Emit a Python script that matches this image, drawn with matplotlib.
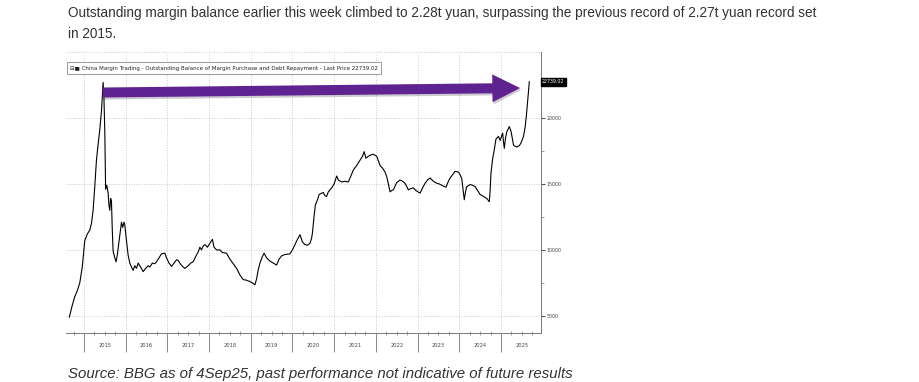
import matplotlib
matplotlib.use("Agg")
import matplotlib.pyplot as plt
import matplotlib.patheffects as pe
from matplotlib.ticker import FixedLocator, NullFormatter

# China margin balance (100m yuan)
YEARS = [
    2014.65, 2014.72, 2014.78, 2014.84, 2014.90, 2014.96, 2015.02, 2015.08, 2015.14, 2015.18,
    2015.22, 2015.26, 2015.30, 2015.34, 2015.38, 2015.42, 2015.46, 2015.48, 2015.50, 2015.52,
    2015.55, 2015.58, 2015.60, 2015.62, 2015.64, 2015.66, 2015.68, 2015.70, 2015.74, 2015.77,
    2015.80, 2015.84, 2015.87, 2015.90, 2015.93, 2015.96, 2015.98, 2016.02, 2016.06, 2016.10,
    2016.14, 2016.18, 2016.22, 2016.26, 2016.30, 2016.36, 2016.42, 2016.48, 2016.54, 2016.58,
    2016.64, 2016.70, 2016.74, 2016.80, 2016.86, 2016.94, 2016.98, 2017.04, 2017.10, 2017.16,
    2017.22, 2017.26, 2017.32, 2017.38, 2017.42, 2017.50, 2017.56, 2017.62, 2017.68, 2017.74,
    2017.78, 2017.82, 2017.86, 2017.90, 2017.96, 2018.02, 2018.08, 2018.12, 2018.18, 2018.26,
    2018.32, 2018.42, 2018.50, 2018.58, 2018.66, 2018.74, 2018.82, 2018.90, 2018.98, 2019.04,
    2019.10, 2019.14, 2019.18, 2019.22, 2019.28, 2019.32, 2019.38, 2019.46, 2019.54, 2019.62,
    2019.68, 2019.74, 2019.82, 2019.94, 2020.00, 2020.06, 2020.12, 2020.18, 2020.24, 2020.30,
    2020.36, 2020.42, 2020.46, 2020.48, 2020.52, 2020.55, 2020.60, 2020.64, 2020.70, 2020.74,
    2020.78, 2020.82, 2020.86, 2020.94, 2021.00, 2021.06, 2021.10, 2021.18, 2021.26, 2021.34,
    2021.40, 2021.46, 2021.54, 2021.62, 2021.68, 2021.72, 2021.76, 2021.82, 2021.88, 2021.94,
    2022.02, 2022.10, 2022.16, 2022.22, 2022.26, 2022.30, 2022.34, 2022.38, 2022.42, 2022.50,
    2022.58, 2022.64, 2022.70, 2022.74, 2022.78, 2022.84, 2022.90, 2022.96, 2023.06, 2023.12,
    2023.18, 2023.24, 2023.30, 2023.38, 2023.46, 2023.52, 2023.58, 2023.68, 2023.74, 2023.78,
    2023.84, 2023.90, 2023.98, 2024.02, 2024.06, 2024.09, 2024.12, 2024.15, 2024.18, 2024.26,
    2024.32, 2024.38, 2024.44, 2024.50, 2024.58, 2024.66, 2024.72, 2024.74, 2024.76, 2024.80,
    2024.84, 2024.88, 2024.94, 2024.98, 2025.04, 2025.06, 2025.08, 2025.11, 2025.14, 2025.20,
    2025.24, 2025.27, 2025.30, 2025.34, 2025.38, 2025.44, 2025.48, 2025.54, 2025.58, 2025.61,
    2025.64, 2025.68,
]
BALANCE = [
    4900, 5800, 6450, 6900, 7500, 8700, 10700, 11200, 11500, 12000,
    13000, 14800, 16800, 18000, 19100, 20500, 22700, 21500, 19000, 14600,
    14900, 14300, 13400, 13000, 13900, 13700, 11500, 9900, 9400, 9100,
    9600, 10600, 11300, 12100, 11700, 12100, 11900, 10700, 9600, 9000,
    8700, 8450, 8800, 8600, 9000, 8700, 8350, 8600, 8800, 8700,
    9000, 8950, 9100, 9400, 9700, 9750, 9400, 9000, 8750, 9000,
    9250, 9200, 8900, 8700, 8600, 8800, 9000, 9100, 9500, 9850,
    10200, 10000, 10300, 10400, 10200, 10500, 10800, 10200, 10000, 10000,
    9800, 9750, 9300, 8950, 8600, 8100, 7750, 7700, 7600, 7500,
    7350, 7800, 8500, 9000, 9500, 9750, 9400, 9150, 9000, 8850,
    9300, 9550, 9650, 9700, 10000, 10400, 10800, 11150, 10600, 10400,
    10350, 10500, 10900, 11300, 12600, 13400, 13800, 14200, 14300, 14350,
    14100, 14050, 14400, 14700, 15000, 15600, 15300, 15150, 15200, 15150,
    15600, 16050, 16400, 16800, 17100, 17450, 16950, 17100, 17200, 17250,
    17100, 16400, 16200, 15900, 15550, 15000, 14400, 14500, 14550, 15100,
    15300, 15200, 15050, 14800, 14550, 14650, 14700, 14500, 14300, 14700,
    15050, 15300, 15450, 15200, 15050, 15000, 14900, 14750, 15200, 15450,
    15700, 15950, 15900, 15700, 15400, 14600, 13800, 14400, 14800, 14950,
    14900, 14800, 14500, 14200, 14050, 13900, 13650, 14500, 15800, 16900,
    17600, 18400, 18600, 18300, 18850, 18200, 17700, 18500, 18950, 19350,
    19000, 18500, 17950, 17850, 17800, 17900, 18100, 18600, 19300, 20200,
    21300, 22739,
]
LAST_PRICE = "22739.02"
YEAR_LABELS = list(range(2015, 2026))
Y_TICKS = [5000, 10000, 15000, 20000]
Y_MINOR = [7500, 12500, 17500, 22500]

TITLE = ("Outstanding margin balance earlier this week climbed to 2.28t yuan, surpassing "
         "the previous record of 2.27t yuan record set\nin 2015.")
SOURCE = "Source: BBG as of 4Sep25, past performance not indicative of future results"
LEGEND = ("China Margin Trading - Outstanding Balance of Margin Purchase and Debt "
          "Repayment - Last Price " + LAST_PRICE)

INK = "#333333"
GRID = "#b8b8b8"
PURPLE = "#5f2391"

fig = plt.figure(figsize=(9.19, 3.82), dpi=100)
fig.patch.set_facecolor("white")
ax = fig.add_axes([66 / 919, 49 / 382, 475 / 919, 281 / 382])

ax.plot(YEARS, BALANCE, color="black", lw=0.8, zorder=3)
ax.set_xlim(2014.57, 2025.96)
ax.set_ylim(3700, 25000)

# grid
for y in YEAR_LABELS:
    ax.axvline(y, ymax=0.99, color=GRID, lw=0.6, ls=(0, (1, 2)), zorder=1)
for v in Y_TICKS + [25000]:
    ax.axhline(v, color=GRID, lw=0.6, ls=(0, (1, 2)), zorder=1)

ax.spines["top"].set_visible(False)
ax.spines["left"].set_visible(False)
for s in ("right", "bottom"):
    ax.spines[s].set_color("#777777")
    ax.spines[s].set_linewidth(0.7)

# x axis: long ticks at year boundaries, quarter minor ticks, labels mid-year
ax.xaxis.set_major_locator(FixedLocator(YEAR_LABELS))
ax.xaxis.set_major_formatter(NullFormatter())
quarters = [y + q for y in range(2014, 2026) for q in (0.25, 0.5, 0.75)]
ax.xaxis.set_minor_locator(FixedLocator(quarters))
ax.tick_params(axis="x", which="major", length=14, width=0.6, color="#777777")
ax.tick_params(axis="x", which="minor", length=3, width=0.5, color="#777777",
               direction="inout")
for y in YEAR_LABELS:
    ax.text(y + 0.5, -0.045, str(y), transform=ax.get_xaxis_transform(),
            ha="center", va="center", fontsize=3.7, color="#444444")

# y axis on the right
ax.yaxis.tick_right()
ax.yaxis.set_major_locator(FixedLocator(Y_TICKS))
ax.yaxis.set_minor_locator(FixedLocator(Y_MINOR))
ax.tick_params(axis="y", which="major", length=3, width=0.8, color="#555555",
               labelsize=3.4, labelcolor="#444444", pad=1)
ax.tick_params(axis="y", which="minor", length=2, width=0.5, color="#777777")
ax.yaxis.set_major_formatter(plt.FuncFormatter(lambda v, _: f"{v:.0f}"))

# last price tag
ax.text(1.002, BALANCE[-1], LAST_PRICE, transform=ax.get_yaxis_transform(),
        ha="left", va="center", fontsize=3.4, color="white",
        bbox=dict(boxstyle="square,pad=0.25", fc="black", ec="black"))

# legend box
ax.text(0.009, 0.943, "\u229f\u25a0 " + LEGEND, transform=ax.transAxes,
        ha="left", va="center", fontsize=3.95, color="#222222",
        bbox=dict(boxstyle="square,pad=0.55", fc="white", ec="#888888", lw=0.6),
        zorder=5)

# purple arrow from the 2015 peak to today
ax.annotate("", xy=(2025.46, 22270), xytext=(2015.45, 21930),
            arrowprops=dict(arrowstyle="simple,head_length=2.0,head_width=2.0,tail_width=0.72",
                            mutation_scale=10, fc=PURPLE, ec=PURPLE, lw=0,
                            shrinkA=0, shrinkB=0,
                            path_effects=[pe.SimplePatchShadow(offset=(0.8, -1.5),
                                                               alpha=0.22),
                                          pe.Normal()]),
            zorder=4)

fig.text(68 / 919, 1 - 6 / 382, TITLE, ha="left", va="top", fontsize=9.8,
         color=INK, family="Liberation Sans", linespacing=1.6)
fig.text(68 / 919, 1 - 374 / 382, SOURCE, ha="left", va="center", fontsize=10.8,
         color=INK, family="Liberation Sans", style="italic")

fig.savefig("out.png", dpi=100, facecolor="white")
